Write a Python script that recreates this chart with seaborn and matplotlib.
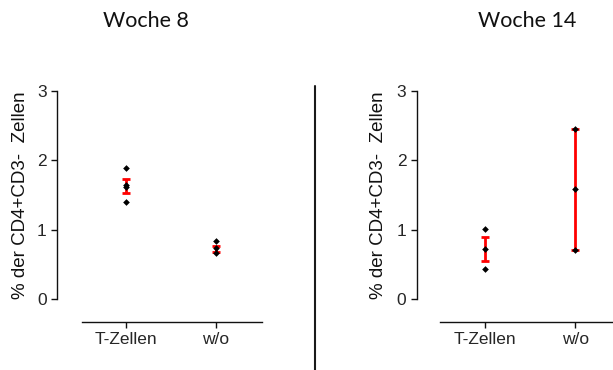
import matplotlib
matplotlib.use("Agg")
import matplotlib.pyplot as plt
from matplotlib.lines import Line2D
import seaborn as sns
import pandas as pd

# Groups on the x axis
groups = ["T-Zellen", "w/o"]

# Individual measurements (% of CD4+CD3- cells)
woche8_tzellen = [1.89, 1.65, 1.61, 1.40]
woche8_wo = [0.83, 0.73, 0.67]
woche14_tzellen = [1.01, 0.72, 0.43]
woche14_wo = [2.45, 1.58, 0.71]

# Group means and error (SEM) shown as red bars
woche8_mean = [1.63, 0.72]
woche8_err = [0.10, 0.038]
woche14_mean = [0.72, 1.58]
woche14_err = [0.17, 0.87]

titles = ["Woche 8", "Woche 14"]
ylabel = "% der CD4+CD3-  Zellen"
yticks = [0, 1, 2, 3]

sns.set_style("ticks")
plt.rcParams["font.family"] = ["Liberation Sans", "DejaVu Sans"]

W, H = 613, 370
fig = plt.figure(figsize=(W / 100, H / 100), dpi=100)


def frame(df, means, errs, rect, xlim, left_out, label_x):
    ax = fig.add_axes(rect)
    ax.errorbar(range(len(groups)), means, yerr=errs, fmt="none",
                ecolor="#ff0000", elinewidth=2.0, capsize=2.8,
                capthick=2.0, zorder=2)
    sns.stripplot(data=df, x="group", y="value", order=groups,
                  jitter=False, color="black", marker="D", size=3.4,
                  linewidth=0, ax=ax, zorder=3)
    ax.set_xlim(*xlim)
    ax.set_ylim(0, 3)
    ax.set_yticks(yticks)
    ax.set_xlabel("")
    ax.set_ylabel(ylabel, fontsize=13.5, color="#111111")
    ax.yaxis.set_label_coords(label_x, 0.5)
    for side in ("top", "right"):
        ax.spines[side].set_visible(False)
    ax.spines["left"].set_position(("outward", left_out))
    ax.spines["left"].set_bounds(0, 3)
    ax.spines["bottom"].set_position(("outward", 16.5))
    for side in ("left", "bottom"):
        ax.spines[side].set_linewidth(1.0)
        ax.spines[side].set_color("#111111")
    ax.tick_params(axis="both", length=4.5, width=1.0, color="#111111",
                   labelsize=12.5, labelcolor="#262626", pad=3)
    ax.patch.set_alpha(0)
    return ax


def long_table(a, b):
    return pd.DataFrame({
        "group": [groups[0]] * len(a) + [groups[1]] * len(b),
        "value": list(a) + list(b),
    })


frame(long_table(woche8_tzellen, woche8_wo), woche8_mean, woche8_err,
      [82 / W, (H - 299) / H, 180 / W, 208 / H], (-0.489, 1.511),
      18.0, -0.294)
frame(long_table(woche14_tzellen, woche14_wo), woche14_mean, woche14_err,
      [440 / W, (H - 299) / H, 173 / W, 208 / H], (-0.493, 1.416),
      16.8, -0.306)

# Panel headings
fig.text(146 / W, (H - 27) / H, titles[0], ha="center", va="baseline",
         fontsize=15.5, family=["Lato", "DejaVu Sans"], color="#111111")
fig.text(527.5 / W, (H - 27) / H, titles[1], ha="center", va="baseline",
         fontsize=15.5, family=["Lato", "DejaVu Sans"], color="#111111")

# Vertical divider between the two panels
fig.add_artist(Line2D([315 / W, 315 / W], [0, (H - 86) / H],
                      transform=fig.transFigure, color="#1a1a1a",
                      linewidth=1.5))

fig.savefig("out.png", dpi=100)
